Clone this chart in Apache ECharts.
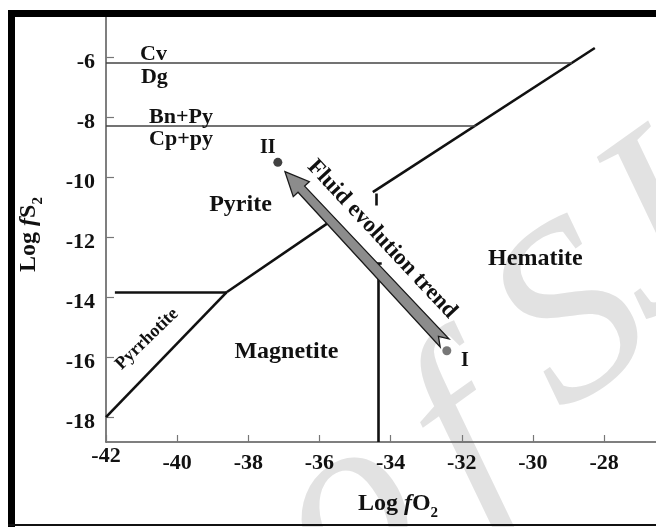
<!DOCTYPE html>
<html><head><meta charset="utf-8">
<script src="https://cdn.jsdelivr.net/npm/echarts@6/dist/echarts.min.js"></script>
<style>html,body{margin:0;padding:0;background:#fff}#c{width:656px;height:527px}</style>
</head><body><div id="c"></div>
<script>
// ---- data (log fO2, log fS2) ----
const xTicks = [-42, -40, -38, -36, -34, -32, -30, -28];
const yTicks = [-18, -16, -14, -12, -10, -8, -6];
const xRange = [-42, -26.54];
const yRange = [-18.83, -4.667];
// mineral stability boundaries (thick)
const phaseBoundaries = [
  [[-42, -18.0], [-38.6, -13.83]],      // pyrrhotite / magnetite
  [[-41.75, -13.83], [-38.6, -13.83]],  // pyrrhotite / pyrite
  [[-38.6, -13.83], [-35.56, -11.37]],  // pyrite / magnetite
  [[-34.5, -10.5], [-28.26, -5.7]],     // pyrite / hematite
  [[-34.4, -10.55], [-34.4, -10.95]],
  [[-34.36, -18.83], [-34.36, -12.87]], // magnetite / hematite
  [[-34.47, -12.87], [-34.25, -12.87]]
];
// Cu sulfide boundaries (thin)
const sulfideLines = [
  [[-42, -6.2], [-28.9, -6.2]],   // Cv / Dg
  [[-42, -8.3], [-31.6, -8.3]]    // Bn+Py / Cp+py
];
// fluid evolution: from stage I to stage II
const trendTail = [-32.56, -15.43];
const trendTip = [-36.97, -9.82];
const stageNames = ['II', 'I'];
const stagePoints = [[-37.17, -9.51], [-32.42, -15.79]];
// text labels placed in data space
const labelNames = ['Cv', 'Dg', 'Bn+Py', 'Cp+py', 'Pyrite', 'Hematite', 'Magnetite', 'Pyrrhotite', 'II', 'I', 'Fluid evolution trend'];
const labelPoints = [[-40.665, -5.9], [-40.64, -6.67], [-39.89, -8.0], [-39.89, -8.73], [-38.22, -10.93],
  [-29.93, -12.72], [-36.93, -15.83], [-40.85, -15.4], [-37.45, -9.03], [-31.91, -16.13], [-34.24, -12.07]];
// background watermark glyphs
const watermarkGlyphs = ['o', 'f', 'S', 'J'];

// ---- styles ----
const SERIF = '"Liberation Serif", "Times New Roman", serif';
const labelStyle = {
  'Cv': {size: 22}, 'Dg': {size: 22}, 'Bn+Py': {size: 22}, 'Cp+py': {size: 22},
  'Pyrite': {size: 24}, 'Hematite': {size: 24}, 'Magnetite': {size: 24},
  'Pyrrhotite': {size: 18, rotate: 44}, 'II': {size: 20}, 'I': {size: 20},
  'Fluid evolution trend': {size: 23, rotate: -47}
};
const watermarkPos = [[350, 515], [465, 445], [575, 324], [652, 238]];

const chart = echarts.init(document.getElementById('c'), null, {renderer: 'canvas'});

function segData(arr) { return arr.map(s => ({coords: s})); }

const nameRich = {
  a: {fontFamily: SERIF, fontWeight: 'bold', fontSize: 24, color: '#111', lineHeight: 29, verticalAlign: 'top'},
  b: {fontFamily: SERIF, fontWeight: 'bold', fontStyle: 'italic', fontSize: 24, color: '#111', lineHeight: 29, verticalAlign: 'top'},
  c: {fontFamily: SERIF, fontWeight: 'bold', fontSize: 15, color: '#111', lineHeight: 29, verticalAlign: 'bottom'}
};

const wmElements = watermarkGlyphs.map((g, i) => ({
  type: 'text', z: 1, x: watermarkPos[i][0], y: watermarkPos[i][1], rotation: 0.62, silent: true,
  style: {text: g, font: 'italic 250px ' + SERIF, fill: '#e2e2e2', align: 'center', verticalAlign: 'middle'}
}));

const option = {
  backgroundColor: '#fff',
  animation: false,
  grid: {left: 106, right: 0, top: 17, bottom: 85, containLabel: false},
  xAxis: {
    type: 'value', min: xRange[0], max: xRange[1], z: 3,
    name: '{a|Log }{b|f}{a|O}{c|2}', nameLocation: 'middle', nameGap: 50,
    nameTextStyle: {rich: nameRich, padding: [0, 0, 0, 34]},
    axisLine: {show: true, onZero: false, lineStyle: {color: '#555', width: 1.5}},
    axisTick: {show: true, inside: true, length: 7, customValues: xTicks, lineStyle: {color: '#777', width: 1.2}},
    axisLabel: {
      customValues: xTicks, margin: 3,
      formatter: v => (v === -42 ? '{h|' + v + '}' : '{n|' + v + '}'),
      rich: {
        h: {fontFamily: SERIF, fontWeight: 'bold', fontSize: 22, color: '#111'},
        n: {fontFamily: SERIF, fontWeight: 'bold', fontSize: 22, color: '#111', padding: [7, 0, 0, 0]}
      }
    },
    splitLine: {show: false}
  },
  yAxis: {
    type: 'value', min: yRange[0], max: yRange[1], z: 3,
    name: '{a|Log }{b|f}{a|S}{c|2}', nameLocation: 'middle', nameGap: 60, nameRotate: 90,
    nameTextStyle: {rich: nameRich, padding: [0, 10, 0, 0]},
    axisLine: {show: true, onZero: false, lineStyle: {color: '#555', width: 1.5}},
    axisTick: {show: true, inside: true, length: 8, customValues: yTicks, lineStyle: {color: '#777', width: 1.2}},
    axisLabel: {
      customValues: yTicks, margin: 11,
      formatter: v => '{n|' + v + '}',
      rich: {n: {fontFamily: SERIF, fontWeight: 'bold', fontSize: 22, color: '#111', lineHeight: 32, verticalAlign: 'bottom'}}
    },
    splitLine: {show: false}
  },
  graphic: {
    elements: wmElements.concat([
      {type: 'rect', z: 10, shape: {x: 8, y: 10, width: 648, height: 7}, style: {fill: '#000'}},
      {type: 'rect', z: 10, shape: {x: 8, y: 10, width: 7, height: 517}, style: {fill: '#000'}},
      {type: 'rect', z: 10, shape: {x: 8, y: 524, width: 648, height: 2}, style: {fill: '#111'}}
    ])
  },
  series: [
    {type: 'lines', coordinateSystem: 'cartesian2d', z: 4, silent: true,
      lineStyle: {color: '#111', width: 2.6, opacity: 1}, data: segData(phaseBoundaries)},
    {type: 'lines', coordinateSystem: 'cartesian2d', z: 4, silent: true,
      lineStyle: {color: '#444', width: 1.6, opacity: 1}, data: segData(sulfideLines)},
    {type: 'custom', z: 5, silent: true, data: [[trendTail[0], trendTail[1], trendTip[0], trendTip[1]]],
      renderItem: function (params, api) {
        const a = api.coord([api.value(0), api.value(1)]);
        const b = api.coord([api.value(2), api.value(3)]);
        const dx = b[0] - a[0], dy = b[1] - a[1];
        const L = Math.sqrt(dx * dx + dy * dy);
        const ux = dx / L, uy = dy / L, nx = -uy, ny = ux;
        const hw = 4.5, headL = 24, headW = 11, notch = 9, tailExt = 4;
        const P = (s, t) => [a[0] + ux * s + nx * t, a[1] + uy * s + ny * t];
        const pts = [P(L, 0), P(L - headL, headW), P(L - headL, hw), P(-tailExt, hw + 1.5),
          P(notch - tailExt, 0), P(-tailExt, -hw - 1.5), P(L - headL, -hw), P(L - headL, -headW)];
        return {type: 'polygon', shape: {points: pts}, style: {fill: '#8c8c8c', stroke: '#1a1a1a', lineWidth: 1.3}};
      }},
    {type: 'scatter', z: 6, silent: true, symbolSize: 9,
      data: stagePoints.map((p, i) => ({name: stageNames[i], value: p,
        itemStyle: {color: stageNames[i] === 'II' ? '#111' : '#555'}}))},
    {type: 'custom', z: 7, silent: true, data: labelPoints,
      renderItem: function (params, api) {
        const p = api.coord([api.value(0), api.value(1)]);
        const name = labelNames[params.dataIndex];
        const st = labelStyle[name] || {size: 22};
        return {type: 'text', x: p[0], y: p[1], rotation: (st.rotate || 0) * Math.PI / 180,
          style: {text: name, font: 'bold ' + st.size + 'px ' + SERIF, fill: '#111',
            align: 'center', verticalAlign: 'middle', textAlign: 'center', textVerticalAlign: 'middle'}};
      }}
  ]
};
chart.setOption(option);
</script></body></html>
